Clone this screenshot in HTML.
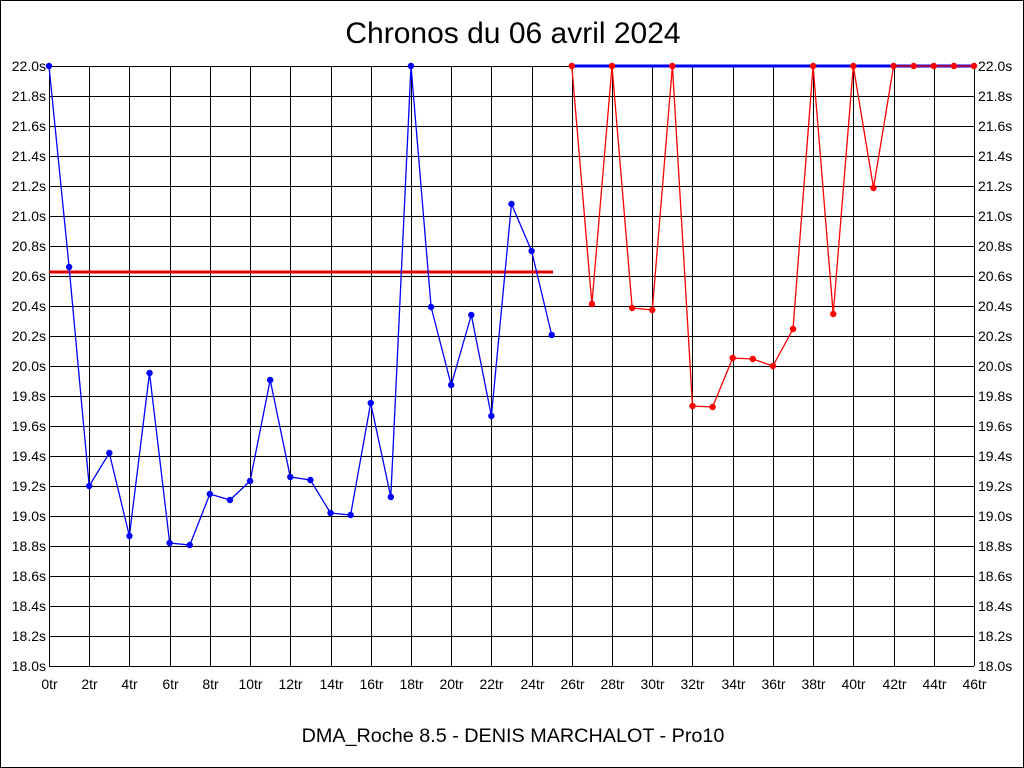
<!DOCTYPE html>
<html><head><meta charset="utf-8"><style>
html,body{margin:0;padding:0;background:#fff}
svg{display:block}
text{font-family:"Liberation Sans",Arial,sans-serif}
</style></head><body>
<svg width="1024" height="768" xmlns="http://www.w3.org/2000/svg">
<rect x="0.5" y="0.5" width="1023" height="767" fill="#fff" stroke="#000"/>
<text x="513" y="43" font-size="30" text-anchor="middle">Chronos du 06 avril 2024</text>
<text x="513" y="742" font-size="19.8" text-anchor="middle">DMA_Roche 8.5 - DENIS MARCHALOT - Pro10</text>
</svg>
<script>
var svg=document.querySelector('svg');
var ns='http://www.w3.org/2000/svg';
function el(t,a,txt){var e=document.createElementNS(ns,t);for(var k in a)e.setAttribute(k,a[k]);if(txt!==undefined)e.textContent=txt;svg.appendChild(e);return e;}
var X0=49,X1=974,Y0=66,Y1=666;
function X(i){return X0+i*(X1-X0)/46;}
for(var k=0;k<=20;k++){var y=Y0+k*30;
 el('line',{x1:X0,x2:X1,y1:y+0.5,y2:y+0.5,stroke:'#000','stroke-width':1});
 var v=(22-k*0.2).toFixed(1)+'s';
 el('text',{x:X0-3,y:y+5,'font-size':14,'text-anchor':'end'},v);
 el('text',{x:X1+4,y:y+5,'font-size':14},v);}
for(var i=0;i<=46;i+=2){var x=Math.round(X(i))+0.5;
 el('line',{x1:x,x2:x,y1:Y0,y2:Y1,stroke:'#000','stroke-width':1});
 el('text',{x:x,y:Y1+23,'font-size':14,'text-anchor':'middle'},i+'tr');}
var blue=[66,267,486,453,536,373,543,545,494,500,481,380,477,480,513,515,403,497,66,307,385,315,416,204,251,335];
var red=[66,304,66,308,310,66,406,407,358,359,366,329,66,314,66,188,66,66,66,66,66];
el('line',{x1:49,x2:553,y1:272,y2:272,stroke:'#e00000','stroke-width':3});
el('line',{x1:571,x2:974,y1:66,y2:66,stroke:'#0000ee','stroke-width':3});
function series(arr,off,col){var p=arr.map(function(y,j){return X(j+off).toFixed(1)+','+y}).join(' ');
 el('polyline',{points:p,fill:'none',stroke:col,'stroke-width':1.3});
 arr.forEach(function(y,j){el('circle',{cx:X(j+off),cy:y,r:3.2,fill:col});});}
series(blue,0,'#0000ff');series(red,26,'#ff0000');
</script>
</body></html>
